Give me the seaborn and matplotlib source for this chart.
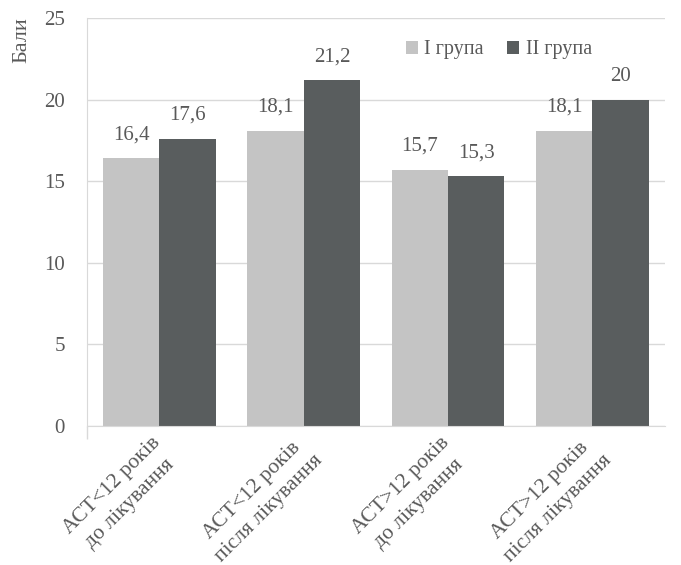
import matplotlib
matplotlib.use("Agg")
import matplotlib.pyplot as plt
import matplotlib.transforms as mtransforms
import seaborn as sns
import pandas as pd

categories = ["АСТ<12 років\nдо лікування", "АСТ<12 років\nпісля лікування",
              "АСТ>12 років\nдо лікування", "АСТ>12 років\nпісля лікування"]
group_names = ["І група", "ІІ група"]
group1 = [16.4, 18.1, 15.7, 18.1]
group2 = [17.6, 21.2, 15.3, 20.0]
label1 = ["16,4", "18,1", "15,7", "18,1"]
label2 = ["17,6", "21,2", "15,3", "20"]
colors = ["#c4c4c4", "#595d5e"]
text_color = "#595959"

df = pd.DataFrame({
    "cat": categories * 2,
    "group": [group_names[0]] * 4 + [group_names[1]] * 4,
    "value": group1 + group2,
})

sns.set_style("white")
plt.rcParams["font.family"] = ["Liberation Serif", "DejaVu Serif"]

fig = plt.figure(figsize=(6.81, 5.65), dpi=100)
ax = fig.add_axes([0.128, 0.246, 0.848, 0.722])

sns.barplot(data=df, x="cat", y="value", hue="group", palette=colors,
            width=0.78, ax=ax, saturation=1, legend=True, linewidth=0)

for cont, labels in zip(ax.containers, [label1, label2]):
    ax.bar_label(cont, labels=labels, padding=10, fontsize=15, color=text_color)

ax.set_ylim(0, 25)
ax.set_yticks([0, 5, 10, 15, 20, 25])
ax.set_xlim(-0.5, 3.5)
ax.yaxis.grid(True, color="#d9d9d9", linewidth=1)
ax.set_axisbelow(True)
for s in ["top", "right"]:
    ax.spines[s].set_visible(False)
ax.spines["left"].set_color("#d9d9d9")
ax.spines["bottom"].set_color("#d9d9d9")
ax.set_xticks([-0.5], minor=True)
ax.tick_params(axis="x", which="minor", length=9, color="#d9d9d9", width=1, bottom=True)
ax.tick_params(axis="y", length=0, labelsize=15, labelcolor=text_color, pad=16)
ax.tick_params(axis="x", which="major", length=0, labelsize=15.5, labelcolor=text_color, pad=5)
shift = mtransforms.ScaledTranslation(-8 / 100, 0, fig.dpi_scale_trans)
for lbl in ax.get_xticklabels():
    lbl.set_rotation(45)
    lbl.set_ha("right")
    lbl.set_rotation_mode("anchor")
    lbl.set_multialignment("center")
    lbl.set_linespacing(1.45)
    lbl.set_transform(lbl.get_transform() + shift)
ax.set_xlabel("")
ax.set_ylabel("Бали", fontsize=16, color=text_color)
ax.yaxis.set_label_coords(-0.096, 0.945)

leg = ax.legend(loc="upper left", bbox_to_anchor=(0.52, 0.99), ncol=2, frameon=False,
                fontsize=14.5, handlelength=0.6, handleheight=0.6, handletextpad=0.3,
                columnspacing=1.2, labelcolor=text_color)

fig.savefig("out.png", dpi=100)
